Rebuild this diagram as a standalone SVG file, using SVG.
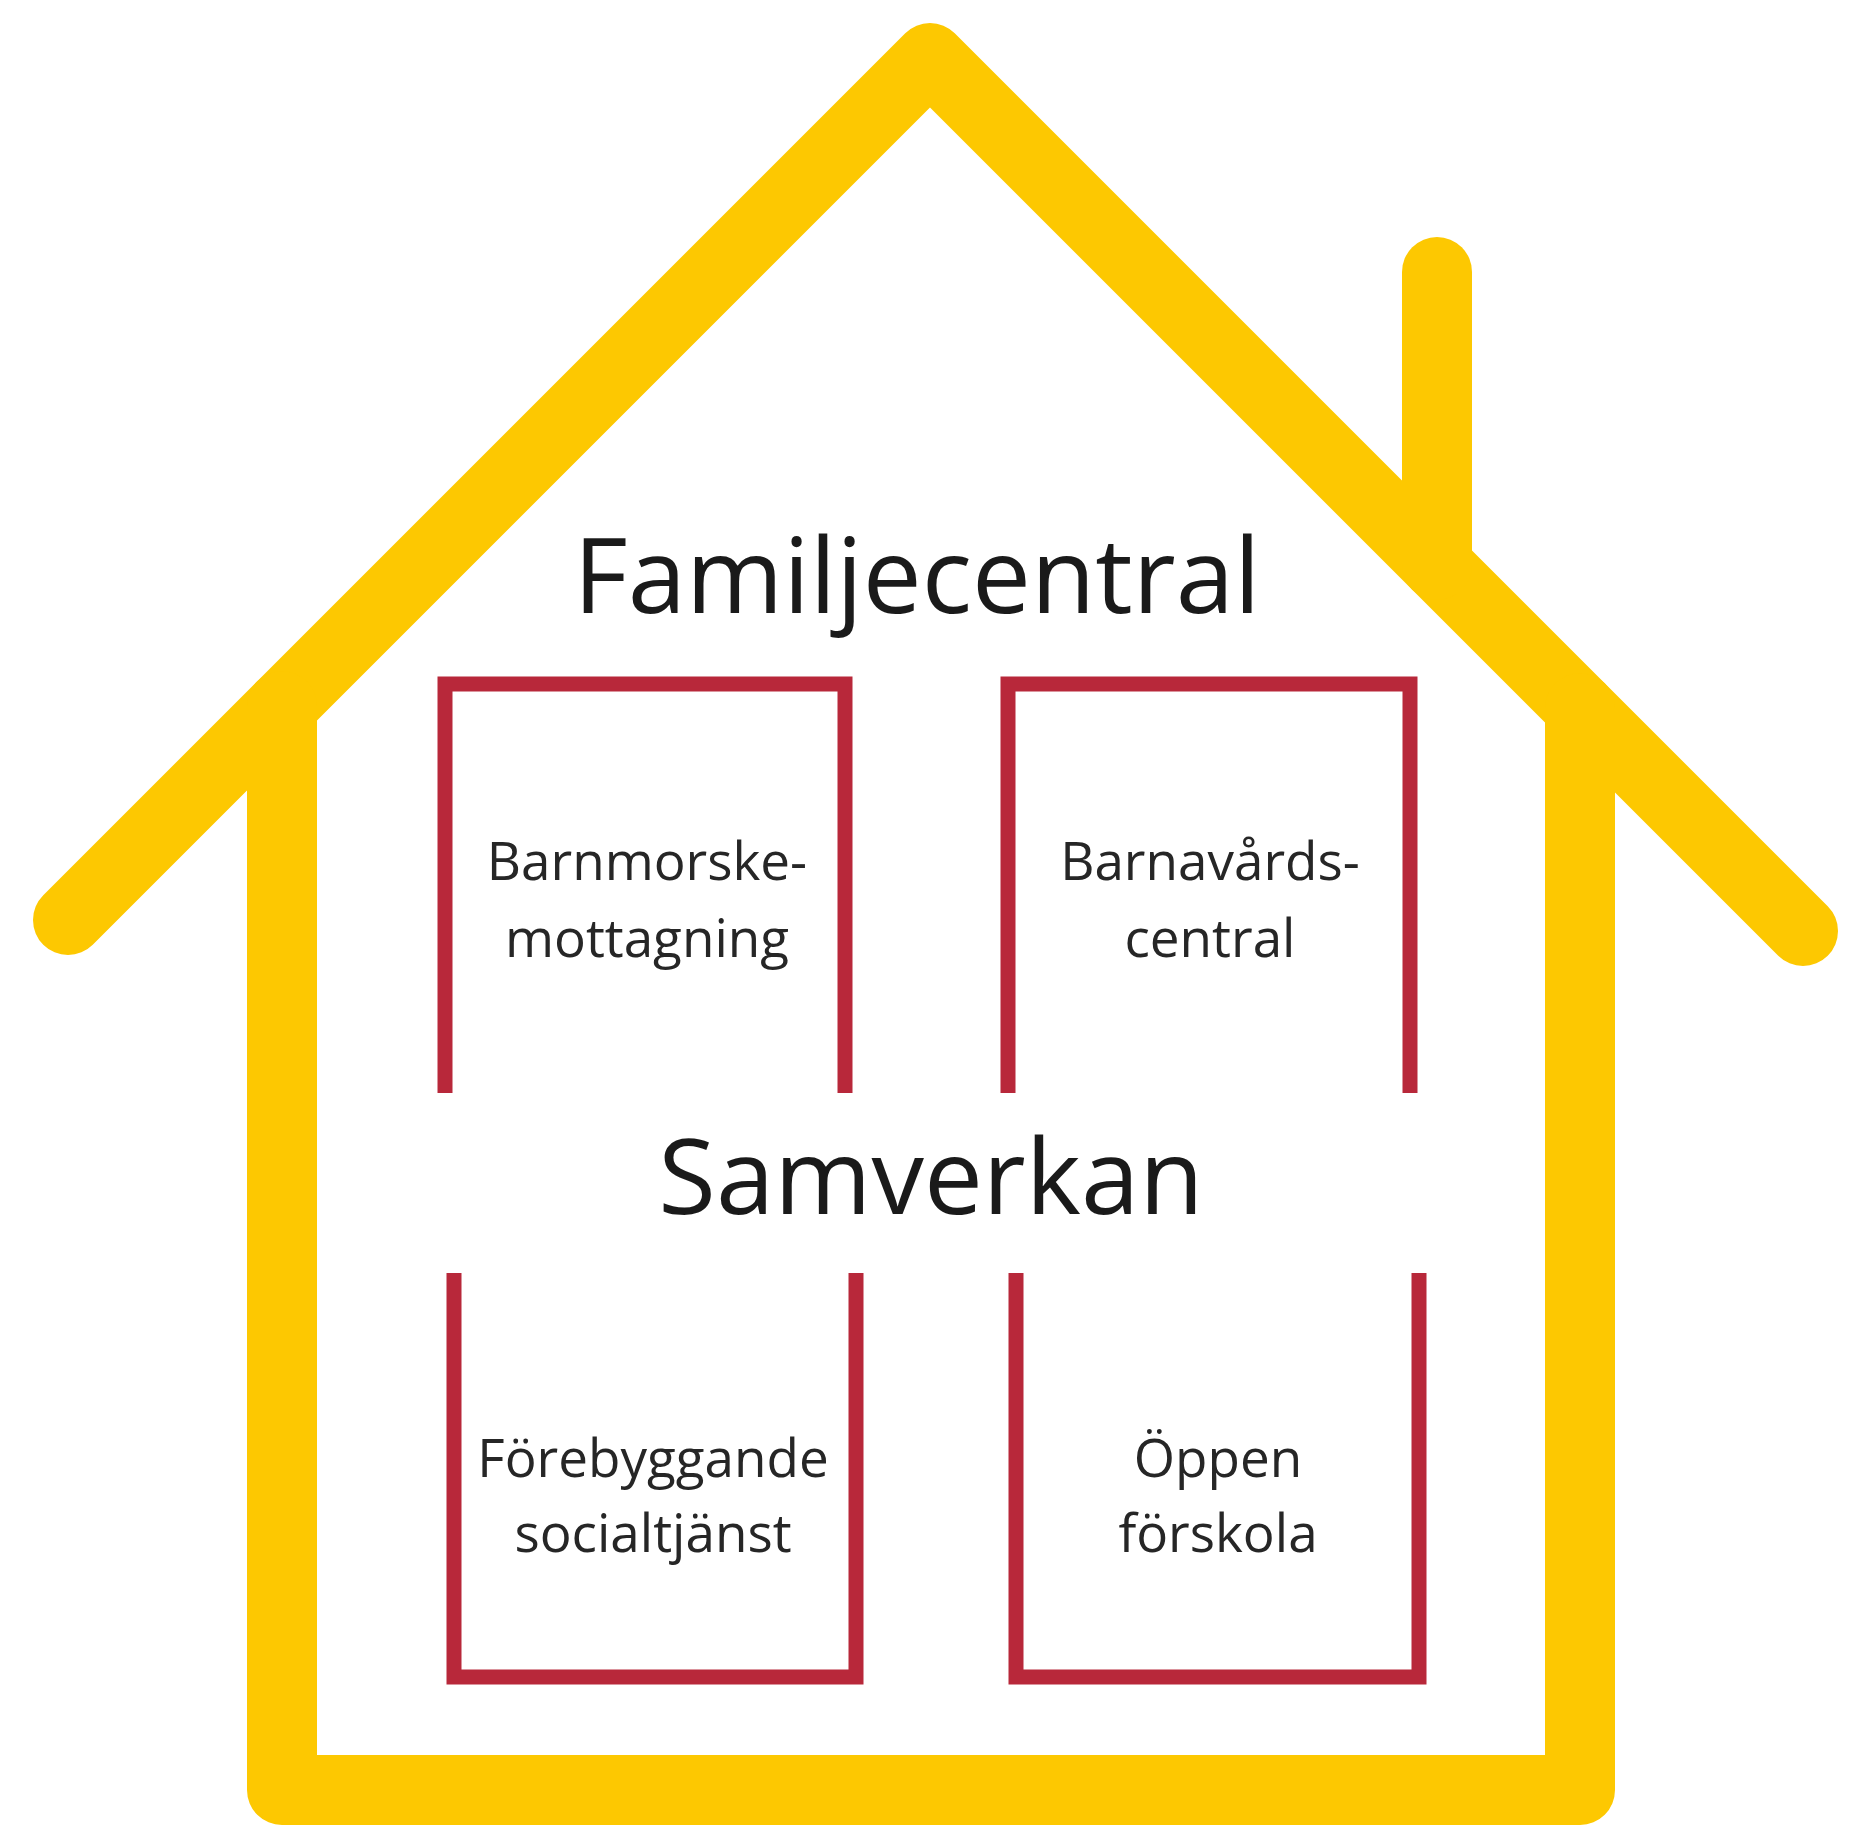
<svg xmlns="http://www.w3.org/2000/svg" width="1865" height="1827" viewBox="0 0 1865 1827">
  <style>
    .house { fill: none; stroke: #FDC801; stroke-width: 70; stroke-linecap: round; stroke-linejoin: round; }
    .box { fill: none; stroke: #B8283A; stroke-width: 15; stroke-linejoin: miter; stroke-linecap: butt; }
    .title { font-family: "Open Sans", "Liberation Sans", sans-serif; font-size: 105px; fill: #1a1a1a; text-anchor: middle; }
    .label { font-family: "Open Sans", "Liberation Sans", sans-serif; font-size: 53px; fill: #262626; text-anchor: middle; }
  </style>
  <rect width="1865" height="1827" fill="#ffffff"/>
  <g id="house">
    <path class="house" d="M68,920 L930,58 L1803,931"/>
    <path class="house" d="M282,706 V1790 H1580 V708"/>
    <path class="house" d="M1437,272 V565"/>
  </g>
  <g id="title-familjecentral">
    <text class="title" x="917" y="613">Familjecentral</text>
  </g>
  <g id="title-samverkan">
    <text class="title" x="931" y="1214">Samverkan</text>
  </g>
  <g id="node-barnmorskemottagning">
    <path class="box" d="M445,1093 V684 H845 V1093"/>
    <text class="label" x="647" y="880">Barnmorske-</text>
    <text class="label" x="647" y="957">mottagning</text>
  </g>
  <g id="node-barnavardscentral">
    <path class="box" d="M1008,1093 V684 H1410 V1093"/>
    <text class="label" x="1210" y="880">Barnavårds-</text>
    <text class="label" x="1210" y="957">central</text>
  </g>
  <g id="node-forebyggande-socialtjanst">
    <path class="box" d="M454,1273 V1677 H856 V1273"/>
    <text class="label" x="653" y="1477">Förebyggande</text>
    <text class="label" x="653" y="1552">socialtjänst</text>
  </g>
  <g id="node-oppen-forskola">
    <path class="box" d="M1016,1273 V1677 H1419 V1273"/>
    <text class="label" x="1218" y="1477">Öppen</text>
    <text class="label" x="1218" y="1552">förskola</text>
  </g>
  <g id="connectors"></g>
</svg>
